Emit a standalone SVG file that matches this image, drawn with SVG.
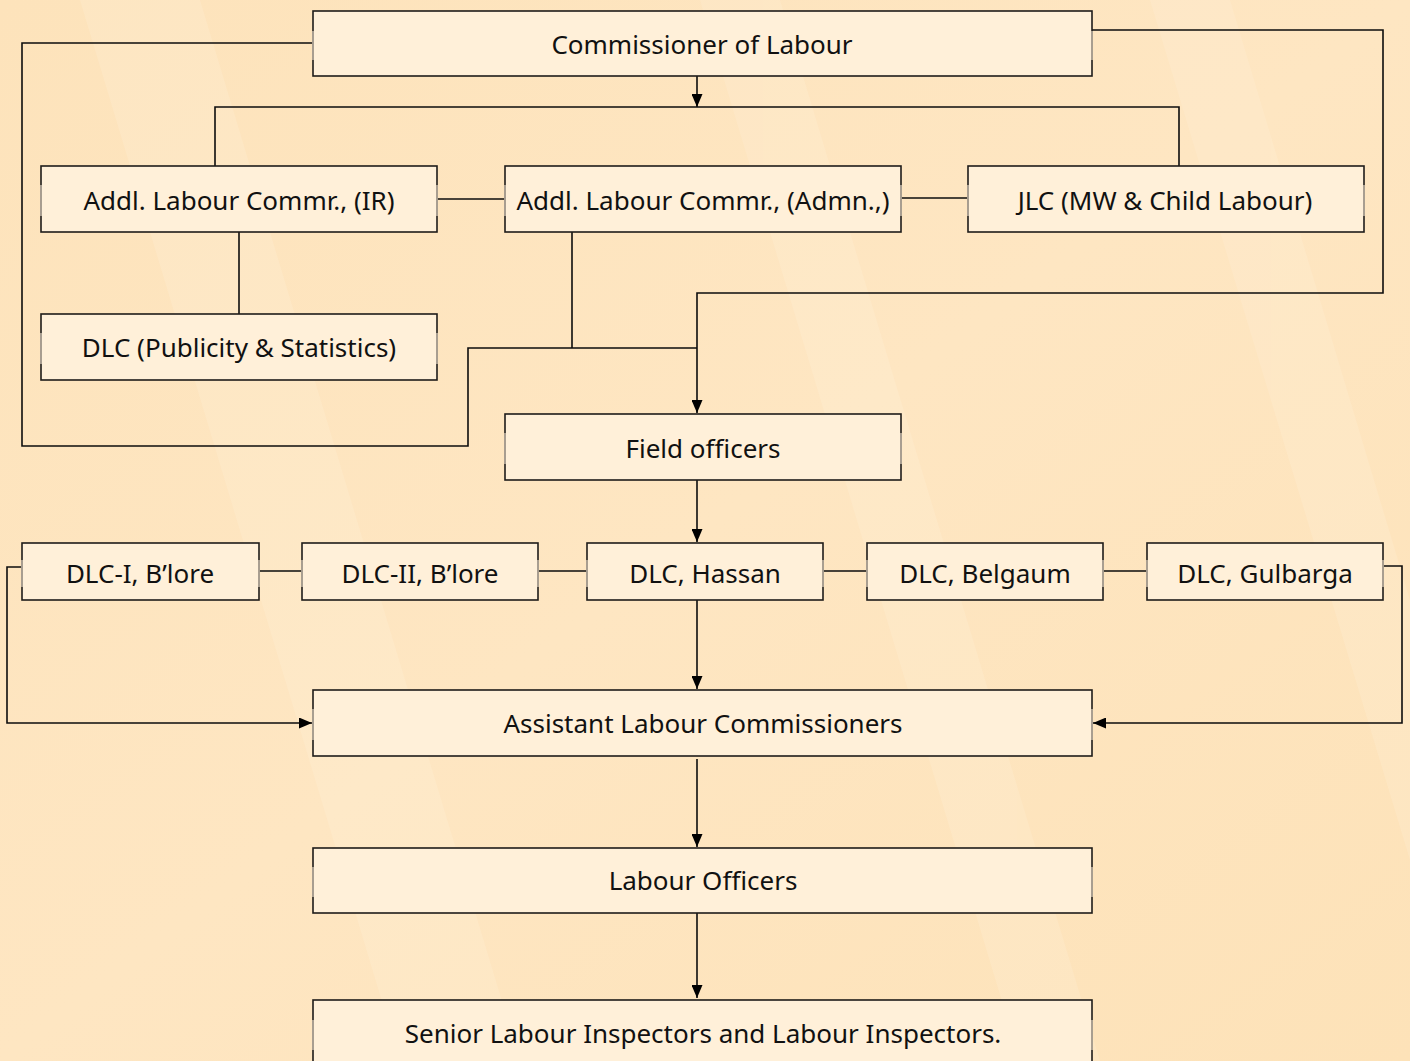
<svg xmlns="http://www.w3.org/2000/svg" width="1410" height="1061" viewBox="0 0 1410 1061">
<defs>
<style>
.box{fill:#fff0d9;stroke:#1f1c19;stroke-width:1.6}
.side{stroke:#b9ae9f;stroke-width:1.7}
.lbl{font-family:"Noto Sans","Open Sans",sans-serif;font-size:26px;fill:#111;text-anchor:middle;dominant-baseline:central}
.conn{fill:none;stroke:#0d0d0d;stroke-width:1.6}
</style>
<marker id="arr" viewBox="0 0 13 11" refX="13" refY="5.5" markerWidth="13" markerHeight="11" markerUnits="userSpaceOnUse" orient="auto">
<path d="M0,0 L13,5.5 L0,11 z" fill="#000"/>
</marker>
<linearGradient id="bg" x1="0" y1="0" x2="1" y2="1">
<stop offset="0" stop-color="#fde3bb"/>
<stop offset="0.5" stop-color="#fee6c2"/>
<stop offset="1" stop-color="#fde2b8"/>
</linearGradient>
</defs>
<rect width="1410" height="1061" fill="url(#bg)"/>
<g opacity="0.2" fill="#fff3df">
<polygon points="80,0 200,0 520,1061 400,1061"/>
<polygon points="700,0 780,0 1100,1061 1020,1061"/>
<polygon points="1150,0 1230,0 1410,600 1410,860"/>
</g>

<g id="connectors">
<path class="conn" d="M313,43 H22 V446 H468 V348 H697"/>
<path class="conn" d="M572,232 V348"/>
<path class="conn" d="M1092,30 H1383 V293 H697 V413" marker-end="url(#arr)"/>
<path class="conn" d="M697,76 V107" marker-end="url(#arr)"/>
<path class="conn" d="M215,166 V107 H1179 V166"/>
<path class="conn" d="M437,199 H505"/>
<path class="conn" d="M901,198 H968"/>
<path class="conn" d="M239,232 V314"/>
<path class="conn" d="M697,480 V542" marker-end="url(#arr)"/>
<path class="conn" d="M259,571 H302 M538,571 H587 M823,571 H867 M1103,571 H1147"/>
<path class="conn" d="M22,567 H7 V723 H312" marker-end="url(#arr)"/>
<path class="conn" d="M1383,566 H1402 V723 H1093" marker-end="url(#arr)"/>
<path class="conn" d="M697,600 V689" marker-end="url(#arr)"/>
<path class="conn" d="M697,759 V847" marker-end="url(#arr)"/>
<path class="conn" d="M697,913 V998" marker-end="url(#arr)"/>
</g>

<g id="n-commissioner">
<rect class="box" x="313" y="11" width="779" height="65"/>
<path class="side" d="M313,31 V60 M1092,31 V60"/>
<text class="lbl" x="702" y="44">Commissioner of Labour</text>
</g>
<g id="n-alc-ir">
<rect class="box" x="41" y="166" width="396" height="66"/>
<path class="side" d="M41,185 V216 M437,185 V216"/>
<text class="lbl" x="239" y="200">Addl. Labour Commr., (IR)</text>
</g>
<g id="n-alc-admn">
<rect class="box" x="505" y="166" width="396" height="66"/>
<path class="side" d="M505,185 V216 M901,185 V216"/>
<text class="lbl" x="703" y="200">Addl. Labour Commr., (Admn.,)</text>
</g>
<g id="n-jlc">
<rect class="box" x="968" y="166" width="396" height="66"/>
<path class="side" d="M968,185 V216 M1364,185 V216"/>
<text class="lbl" x="1165" y="200">JLC (MW &amp; Child Labour)</text>
</g>
<g id="n-dlc-pub">
<rect class="box" x="41" y="314" width="396" height="66"/>
<path class="side" d="M41,333 V364 M437,333 V364"/>
<text class="lbl" x="239" y="347">DLC (Publicity &amp; Statistics)</text>
</g>
<g id="n-field">
<rect class="box" x="505" y="414" width="396" height="66"/>
<path class="side" d="M505,433 V464 M901,433 V464"/>
<text class="lbl" x="703" y="448">Field officers</text>
</g>
<g id="n-dlc1">
<rect class="box" x="22" y="543" width="237" height="57"/>
<path class="side" d="M22,560 V587 M259,560 V587"/>
<text class="lbl" x="140" y="573">DLC-I, B’lore</text>
</g>
<g id="n-dlc2">
<rect class="box" x="302" y="543" width="236" height="57"/>
<path class="side" d="M302,560 V587 M538,560 V587"/>
<text class="lbl" x="420" y="573">DLC-II, B’lore</text>
</g>
<g id="n-hassan">
<rect class="box" x="587" y="543" width="236" height="57"/>
<path class="side" d="M587,560 V587 M823,560 V587"/>
<text class="lbl" x="705" y="573">DLC, Hassan</text>
</g>
<g id="n-belgaum">
<rect class="box" x="867" y="543" width="236" height="57"/>
<path class="side" d="M867,560 V587 M1103,560 V587"/>
<text class="lbl" x="985" y="573">DLC, Belgaum</text>
</g>
<g id="n-gulbarga">
<rect class="box" x="1147" y="543" width="236" height="57"/>
<path class="side" d="M1147,560 V587 M1383,560 V587"/>
<text class="lbl" x="1265" y="573">DLC, Gulbarga</text>
</g>
<g id="n-alcs">
<rect class="box" x="313" y="690" width="779" height="66"/>
<path class="side" d="M313,709 V740 M1092,709 V740"/>
<text class="lbl" x="703" y="723">Assistant Labour Commissioners</text>
</g>
<g id="n-lo">
<rect class="box" x="313" y="848" width="779" height="65"/>
<path class="side" d="M313,867 V897 M1092,867 V897"/>
<text class="lbl" x="703" y="880">Labour Officers</text>
</g>
<g id="n-sli">
<rect class="box" x="313" y="1000" width="779" height="70"/>
<path class="side" d="M313,1020 V1050 M1092,1020 V1050"/>
<text class="lbl" x="703" y="1033">Senior Labour Inspectors and Labour Inspectors.</text>
</g>
</svg>
